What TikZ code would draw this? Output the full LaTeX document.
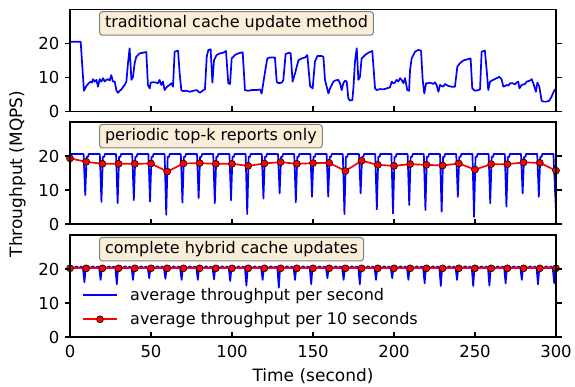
\documentclass[tikz,border=0pt]{standalone}
\usepackage{fontspec}
\setmainfont{DejaVu Sans}
\definecolor{mblue}{RGB}{0,0,255}
\definecolor{mred}{RGB}{255,0,0}
\definecolor{boxfill}{RGB}{250,238,217}
\definecolor{boxedge}{RGB}{128,128,128}
\tikzset{
  blueline/.style={draw=mblue, line width=1.7pt, line join=round},
  redline/.style={draw=mred, line width=1.7pt, line join=round},
  redmark/.style={fill=mred, draw=black, line width=0.6pt},
  frame/.style={draw=black, line width=1.5pt},
  axtick/.style={draw=black, line width=1.1pt},
  titlebox/.style={draw=boxedge, fill=boxfill, rounded corners=3pt, line width=1pt,
    inner xsep=5.5pt, inner ysep=4pt, text height=12pt, text depth=3.5pt, anchor=west,
    font=\fontsize{16}{19}\selectfont},
  ticklab/.style={inner sep=0pt, font=\fontsize{16.5}{19}\selectfont},
  axlab/.style={inner sep=0pt, font=\fontsize{17}{20}\selectfont},
  legtext/.style={inner sep=0pt, anchor=west, font=\fontsize{16}{19}\selectfont},
}
\def\redtwo{0/19.3,10/18.3,20/17.7,30/17.7,40/17.7,50/17.8,60/15.4,70/17.8,80/17.9,90/17.7,100/17.7,110/17.1,120/17.8,130/18.2,140/17.7,150/17.9,160/18.0,170/15.6,180/18.6,190/17.4,200/17.1,210/17.6,220/17.4,230/17.2,240/17.8,250/16.0,260/17.6,270/17.6,280/18.1,290/18.0,300/15.7}
\def\dipstwo{1/8.5,2/6.5,3/6.1,4/7.0,5/6.6,6/2.7,7/6.3,8/7.6,9/6.1,10/7.0,11/2.9,12/7.5,13/9.0,14/6.4,15/8.0,16/8.0,17/2.9,18/9.0,19/4.3,20/3.1,21/5.6,22/4.1,23/3.6,24/8.0,25/2.1,26/6.1,27/5.1,28/9.0,29/8.0}
\def\dipsthree{1/16.1,2/16.8,3/15.5,4/16.8,5/17.3,6/17.1,7/16.8,8/16.8,9/17.0,10/16.5,11/15.1,12/16.8,13/14.5,14/16.8,15/15.5,16/17.3,17/16.8,18/15.5,19/16.8,20/17.3,21/16.8,22/15.8,23/15.0,24/16.8,25/15.0,26/15.1,27/15.8,28/16.8,29/15.5,30/15.8}
\begin{document}
\begin{tikzpicture}[x=1pt,y=-1pt]
\fill[white] (0,0) rectangle (575,386);
\useasboundingbox (0,0) rectangle (575,386);

% ---------- panel 1 data ----------
\begin{scope}[shift={(70,111.5)}, x=1.62pt, y=3.4pt]
\draw[blueline] plot coordinates {(0,20.5) (6.6,20.5) (8.6,6.1) (10.1,7.5) (11.5,8.3) (12.8,8.8) (13.6,8.5) (14.2,9.5) (15.2,8.8) (16.3,9.3) (17.3,7.3) (18.3,9.5) (19.3,8.8) (20.4,9.8) (21.4,8.8) (22.4,9.3) (23.5,9.5) (24.5,9.1) (25.5,10.7) (26.5,8.8) (27.6,8.8) (28.6,6.3) (29.6,5.5) (30.7,6.1) (31.7,6.5) (33.7,7.8) (34.8,8.8) (35.8,14.2) (36.8,18.6) (37.9,9.3) (38.9,10.2) (39.9,14.2) (40.9,16.1) (43.0,17.1) (45.1,17.3) (47.1,17.5) (48.1,7.8) (49.2,6.8) (49.8,8.5) (51.2,8.6) (53.3,8.5) (54.3,8.3) (55.3,9.3) (56.4,7.8) (57.4,8.8) (58.4,6.3) (59.5,7.1) (60.5,7.5) (61.5,7.8) (62.6,8.3) (63.6,7.3) (64.6,17.6) (66.7,17.9) (67.7,11.2) (68.7,6.3) (69.8,6.0) (71.8,6.1) (73.9,5.8) (76.1,6.1) (78.2,6.3) (80.2,5.5) (82.3,6.3) (83.3,6.5) (84.4,16.1) (85.4,18.1) (86.8,18.3) (87.9,8.5) (88.9,15.1) (90.5,16.6) (92.6,17.1) (94.6,17.3) (96.3,17.8) (97.7,8.3) (98.8,8.1) (99.8,15.6) (101.8,16.6) (103.9,17.1) (106.6,17.4) (108.0,6.3) (110.1,6.1) (112.1,6.3) (115.2,6.3) (117.3,6.5) (118.3,5.3) (120.4,11.7) (121.8,15.6) (123.5,15.9) (126.5,15.9) (127.6,8.8) (128.6,8.3) (130.7,8.5) (131.7,9.3) (133.1,16.9) (135.2,17.3) (136.2,17.1) (137.4,8.8) (138.9,11.2) (141.0,15.1) (143.0,15.6) (145.1,15.9) (146.5,16.6) (148.2,7.5) (149.8,6.8) (151.2,14.7) (152.7,16.3) (155.4,16.3) (156.4,16.1) (157.4,9.3) (159.5,5.3) (160.5,6.8) (162.6,8.8) (163.6,9.1) (165.6,9.3) (166.7,8.3) (167.7,6.3) (168.7,8.3) (169.8,9.1) (170.8,8.8) (171.8,3.9) (172.8,3.2) (174.3,3.4) (175.0,7.3) (175.9,14.7) (177.0,18.6) (178.0,9.3) (179.0,10.2) (180.0,15.6) (182.1,16.6) (184.2,17.3) (186.6,17.8) (188.3,6.8) (189.3,6.3) (191.4,6.6) (193.4,6.5) (195.5,6.8) (197.5,7.1) (198.6,8.8) (199.6,8.3) (200.6,8.5) (201.6,9.3) (202.7,8.8) (203.7,9.8) (204.7,9.3) (205.8,8.3) (206.8,9.8) (208.2,6.3) (209.3,6.1) (209.9,12.2) (210.9,15.6) (213.0,17.6) (215.0,18.1) (216.7,17.9) (217.7,9.3) (218.7,5.3) (219.8,8.3) (221.2,8.3) (222.2,8.5) (224.3,8.1) (225.3,8.6) (226.3,7.8) (227.4,5.8) (228.4,7.8) (229.4,7.5) (230.4,7.3) (231.5,8.1) (233.5,7.5) (235.6,7.3) (237.6,7.3) (239.1,13.2) (240.7,14.2) (242.8,15.0) (244.8,15.3) (247.3,15.6) (248.3,6.8) (250.0,6.1) (252.0,6.3) (253.1,6.5) (254.1,17.6) (256.1,17.9) (257.2,12.2) (258.2,6.3) (259.3,8.8) (261.3,9.3) (263.4,9.8) (265.0,10.2) (266.4,9.5) (267.5,7.3) (268.5,7.5) (269.5,7.8) (270.6,7.6) (271.6,8.3) (273.2,8.3) (274.7,8.0) (275.7,8.5) (276.7,8.8) (277.4,6.8) (278.8,7.8) (280.9,8.1) (281.9,8.8) (284.0,9.1) (285.0,9.5) (286.0,8.3) (287.6,5.8) (288.5,8.5) (289.7,7.3) (291.1,3.2) (292.2,2.9) (294.2,2.9) (295.9,3.2) (297.3,4.4) (298.8,6.1) (300,6.7)};
\end{scope}

% ---------- panel 2 data ----------
\begin{scope}[shift={(70,224)}, x=1.62pt, y=3.4pt]
\draw[blueline] (0,20.6) \foreach \k/\d in \dipstwo {
  -- ({10*\k-1.6},20.6) -- ({10*\k-0.6},\d) -- ({10*\k+0.3},19.7) -- ({10*\k+1.2},19.8) -- ({10*\k+1.5},20.6) }
  -- (298.4,20.6) -- (300,3.6);
\draw[redline] (0,19.3) \foreach \t/\v in \redtwo { -- (\t,\v) };
\foreach \t/\v in \redtwo { \filldraw[redmark] (\t,\v) circle[radius=3.5pt]; }
\end{scope}

% ---------- panel 3 data ----------
\begin{scope}[shift={(70,337)}, x=1.62pt, y=3.4pt]
\draw[blueline] (0,20.5) \foreach \k/\d in \dipsthree {
  -- ({10*\k-9},20.75) -- ({10*\k-7.5},20.3) -- ({10*\k-6},20.8) -- ({10*\k-4.5},20.3) -- ({10*\k-3},20.75) -- ({10*\k-2},20.3) -- ({10*\k-1.1},\d) -- ({10*\k-0.3},20.5) }
  -- (300,20.5);
\draw[redline] (0,20.2) -- (300,20.2);
\foreach \t in {0,10,...,300} { \filldraw[redmark] (\t,20.2) circle[radius=3.5pt]; }
% legend (axes coordinates of panel 3)
\draw[blueline] (8,12.3) -- (29,12.3);
\draw[redline] (8,5.2) -- (29,5.2);
\filldraw[redmark] (18.5,5.2) circle[radius=3.5pt];
\end{scope}

% ---------- axes, ticks, tick labels ----------
\foreach \b [count=\p] in {111.5,224,337} {
\begin{scope}[shift={(70,\b)}, x=1.62pt, y=3.4pt]
  \foreach \v in {0,10,20} {
    \draw[axtick] (0,\v) -- ++(-5.5pt,0pt);
    \draw[axtick] (300,\v) -- ++(5.5pt,0pt);
    \node[ticklab, anchor=east] (ylab\p-\v) at ([xshift=-10.5pt]0,\v) {\v};
  }
  \foreach \t in {50,100,...,250} { \draw[axtick] (\t,0) -- ++(0pt,5.5pt); }
  \draw[frame] (0,0) rectangle (300,30);
\end{scope}
}
\begin{scope}[shift={(70,337)}, x=1.62pt, y=3.4pt]
  \foreach \t in {0,50,...,300} { \node[ticklab] (xlab\t) at ([yshift=-14.7pt]\t,0) {\t}; }
\end{scope}

% ---------- titles ----------
\node[titlebox] (t1) at (99,23.4) {traditional cache update method};
\node[titlebox] (t2) at (99,136.2) {periodic top-k reports only};
\node[titlebox] (t3) at (99,249.2) {complete hybrid cache updates};

% ---------- legend text ----------
\node[legtext] (lt1) at (130,296) {average throughput per second};
\node[legtext] (lt2) at (130,320) {average throughput per 10 seconds};

% ---------- axis labels ----------
\node[axlab] (xaxl) at (313,376.5) {Time (second)};
\node[axlab, rotate=90] (yaxl) at (17.5,174) {Throughput (MQPS)};
\end{tikzpicture}
\end{document}
